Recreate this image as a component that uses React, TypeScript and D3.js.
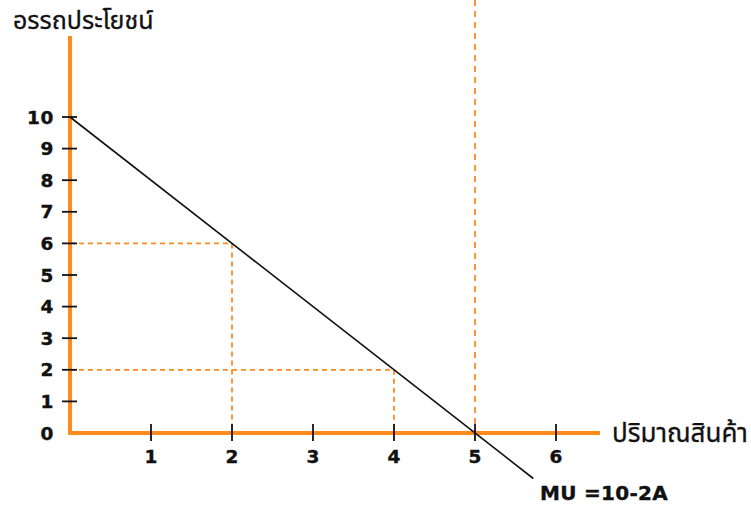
import React from "react";
import * as d3 from "d3";

const yTicks = [0, 1, 2, 3, 4, 5, 6, 7, 8, 9, 10];
const xTicks = [1, 2, 3, 4, 5, 6];
// MU = 10 - 2A, drawn from A=0 to beyond the x axis
const muLine = [
  { a: 0, mu: 10 },
  { a: 5.72, mu: -1.44 },
];
// points marked with dashed guides
const guidePoints = [
  { a: 2, mu: 6 },
  { a: 4, mu: 2 },
];
const zeroPoint = { a: 5, mu: 0 };
const yLabel = "อรรถประโยชน์";
const xLabel = "ปริมาณสินค้า";
const eqLabel = "MU =10-2A";

const W = 751;
const H = 507;

export default function App() {
  const x = d3.scaleLinear().domain([0, 5]).range([70, 475]);
  const y = d3.scaleLinear().domain([0, 10]).range([433, 117]);
  const orange = "#ff8a1e";
  const line = d3
    .line<{ a: number; mu: number }>()
    .x((d) => x(d.a))
    .y((d) => y(d.mu));
  const numFont = "'DejaVu Sans', Verdana, sans-serif";
  const thaiFont = "'Noto Sans Thai', 'Tahoma', 'DejaVu Sans', sans-serif";

  return (
    <svg
      width={W}
      height={H}
      style={{ position: "absolute", left: 0, top: 0, background: "#fff" }}
    >
      {/* dashed guides */}
      {guidePoints.map((p, i) => (
        <g key={i} stroke={orange} strokeWidth={1.8} strokeDasharray="5,4" fill="none">
          <line x1={x(0)} x2={x(p.a)} y1={y(p.mu)} y2={y(p.mu)} />
          <line x1={x(p.a)} x2={x(p.a)} y1={y(p.mu)} y2={y(0)} />
        </g>
      ))}
      <line
        x1={x(zeroPoint.a)}
        x2={x(zeroPoint.a)}
        y1={0}
        y2={y(0)}
        stroke={orange}
        strokeWidth={1.8}
        strokeDasharray="6,5"
      />

      {/* axes */}
      <line x1={x(0)} x2={x(0)} y1={36} y2={y(0) + 2} stroke={orange} strokeWidth={4} />
      <line x1={x(0) - 2} x2={600} y1={y(0)} y2={y(0)} stroke={orange} strokeWidth={4} />

      {/* y ticks */}
      {yTicks.map((t) => (
        <g key={t}>
          {t > 0 && (
            <line x1={62} x2={77} y1={y(t)} y2={y(t)} stroke="#111" strokeWidth={1.8} />
          )}
          <text
            x={54}
            y={y(t)}
            dy="0.36em"
            textAnchor="end"
            fontFamily={numFont}
            fontWeight="bold"
            fontSize={18.5}
            letterSpacing={0.6}
            fill="#111"
            stroke="#111"
            strokeWidth={0.4}
          >
            {t}
          </text>
        </g>
      ))}

      {/* x ticks */}
      {xTicks.map((t) => (
        <g key={t}>
          <line x1={x(t)} x2={x(t)} y1={y(0) - 9} y2={y(0) + 8} stroke="#111" strokeWidth={1.8} />
          <text
            x={x(t)}
            y={y(0) + 30}
            textAnchor="middle"
            fontFamily={numFont}
            fontWeight="bold"
            fontSize={18.5}
            fill="#111"
            stroke="#111"
            strokeWidth={0.4}
          >
            {t}
          </text>
        </g>
      ))}

      {/* MU line */}
      <path d={line(muLine) || ""} stroke="#111" strokeWidth={1.6} fill="none" />

      {/* labels */}
      <text x={13} y={29} fontFamily={thaiFont} fontSize={25} fill="#111" stroke="#111" strokeWidth={0.3}>
        {yLabel}
      </text>
      <text x={612} y={442} fontFamily={thaiFont} fontSize={26} fill="#111" stroke="#111" strokeWidth={0.3}>
        {xLabel}
      </text>
      <text
        x={540}
        y={500}
        fontFamily={numFont}
        fontWeight="bold"
        fontSize={20}
        letterSpacing={0.3}
        fill="#111"
        stroke="#111"
        strokeWidth={0.4}
      >
        {eqLabel}
      </text>
    </svg>
  );
}
